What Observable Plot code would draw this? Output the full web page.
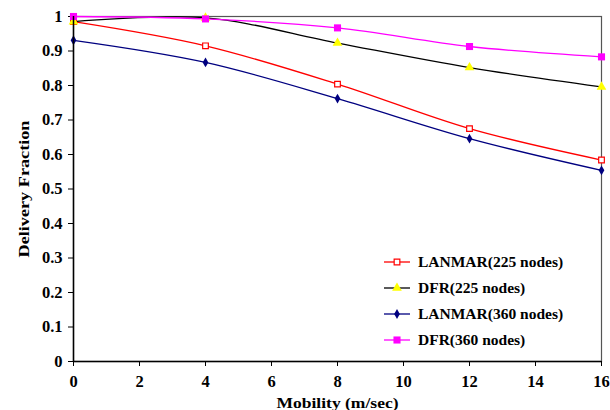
<!DOCTYPE html>
<html>
<head>
<meta charset="utf-8">
<script src="https://cdn.jsdelivr.net/npm/d3@7"></script>
<script src="https://cdn.jsdelivr.net/npm/@observablehq/plot@0.6"></script>
<style>
  html, body { margin: 0; padding: 0; background: #fff; }
  #wrap { position: relative; width: 610px; height: 410px; }
  #wrap, #wrap svg, #wrap svg text, #legend { font-family: "Liberation Serif", "Times New Roman", serif !important; }
  #legend { position: absolute; left: 383px; top: 249px; font-weight: bold; font-size: 15.5px; color: #000; }
  #legend .row { display: flex; align-items: center; height: 26px; }
  #legend svg { margin-right: 7px; }
  .ticktxt { font-size: 16.5px !important; font-weight: bold !important; }
  .axtitle { font-size: 15.5px !important; font-weight: bold !important; }
</style>
</head>
<body>
<div id="wrap"></div>
<script>
const mobility = [0, 4, 8, 12, 16];
const seriesNames = ["LANMAR(225 nodes)", "DFR(225 nodes)", "LANMAR(360 nodes)", "DFR(360 nodes)"];
const lanmar225 = [0.985, 0.915, 0.804, 0.675, 0.584];
const dfr225 = [0.985, 0.996, 0.923, 0.852, 0.796];
const lanmar360 = [0.931, 0.867, 0.762, 0.646, 0.554];
const dfr360 = [1.0, 0.993, 0.967, 0.913, 0.883];
const xTicks = [0, 2, 4, 6, 8, 10, 12, 14, 16];
const yTicks = [0, 0.1, 0.2, 0.3, 0.4, 0.5, 0.6, 0.7, 0.8, 0.9, 1];

const styles = [
  {line: "#ff0000", symbol: "square", fill: "white", stroke: "#ff0000", r: 3.2},
  {line: "#000000", symbol: "triangle", fill: "#ffff00", stroke: "none", r: 3.6},
  {line: "#000080", symbol: "diamond", fill: "#000080", stroke: "none", r: 3.0},
  {line: "#ff00ff", symbol: "square", fill: "#ff00ff", stroke: "none", r: 4.0}
];
const allValues = [lanmar225, dfr225, lanmar360, dfr360];
const data = [];
allValues.forEach((vals, i) => mobility.forEach((m, j) => data.push({series: seriesNames[i], idx: i, x: m, y: vals[j]})));

const marks = [
  Plot.frame({stroke: "#555", strokeWidth: 1.2}),
  Plot.axisX({ticks: xTicks, tickSize: 5, tickPadding: 9,
    label: "Mobility (m/sec)", labelAnchor: "center", labelArrow: "none", labelOffset: 46}),
  Plot.axisY({ticks: yTicks, tickSize: 5, tickPadding: 6,
    tickFormat: d => String(d), label: "Delivery Fraction", labelAnchor: "center", labelArrow: "none", labelOffset: 56}),
];
styles.forEach((s, i) => {
  const d = data.filter(r => r.idx === i);
  marks.push(Plot.line(d, {x: "x", y: "y", stroke: s.line, strokeWidth: 1.3, curve: "catmull-rom"}));
});
styles.forEach((s, i) => {
  const d = data.filter(r => r.idx === i);
  marks.push(Plot.dot(d, {x: "x", y: "y", symbol: () => s.symbol, fill: s.fill, stroke: s.stroke, r: s.r, strokeWidth: 1.2}));
});
marks.push(Plot.ruleX([0], {stroke: "#000", strokeWidth: 1.5}));
marks.push(Plot.ruleY([0], {stroke: "#000", strokeWidth: 1.5}));

const chart = Plot.plot({
  width: 610, height: 410,
  marginLeft: 73, marginRight: 9, marginTop: 16, marginBottom: 49,
  style: {background: "white", color: "#000"},
  x: {domain: [0, 16]},
  y: {domain: [0, 1]},
  symbol: {type: "identity"},
  marks
});
chart.querySelectorAll('[aria-label="x-axis tick label"] text, [aria-label="y-axis tick label"] text').forEach(t => t.classList.add("ticktxt"));
chart.querySelectorAll('[aria-label="x-axis label"] text').forEach(t => {
  t.classList.add("axtitle");
  t.setAttribute("textLength", "122");
  t.setAttribute("lengthAdjust", "spacingAndGlyphs");
});
chart.querySelectorAll('[aria-label="y-axis label"] text').forEach(t => {
  t.classList.add("axtitle");
  t.setAttribute("textLength", "137");
  t.setAttribute("lengthAdjust", "spacingAndGlyphs");
});
document.getElementById("wrap").appendChild(chart);

// Legend
const legend = document.createElement("div");
legend.id = "legend";
styles.forEach((s, i) => {
  const row = document.createElement("div");
  row.className = "row";
  const sw = d3.create("svg").attr("width", 28).attr("height", 12);
  sw.append("line").attr("x1", 1).attr("x2", 27).attr("y1", 6).attr("y2", 6).attr("stroke", s.line).attr("stroke-width", 1.3);
  const sym = {square: d3.symbolSquare, triangle: d3.symbolTriangle, diamond: d3.symbolDiamond}[s.symbol];
  sw.append("path").attr("transform", "translate(14,6)")
    .attr("d", d3.symbol(sym, s.r * s.r * Math.PI)())
    .attr("fill", s.fill).attr("stroke", s.stroke).attr("stroke-width", 1.2);
  row.appendChild(sw.node());
  const t = document.createElement("span");
  t.textContent = seriesNames[i];
  row.appendChild(t);
  legend.appendChild(row);
});
document.getElementById("wrap").appendChild(legend);
</script>
</body>
</html>
